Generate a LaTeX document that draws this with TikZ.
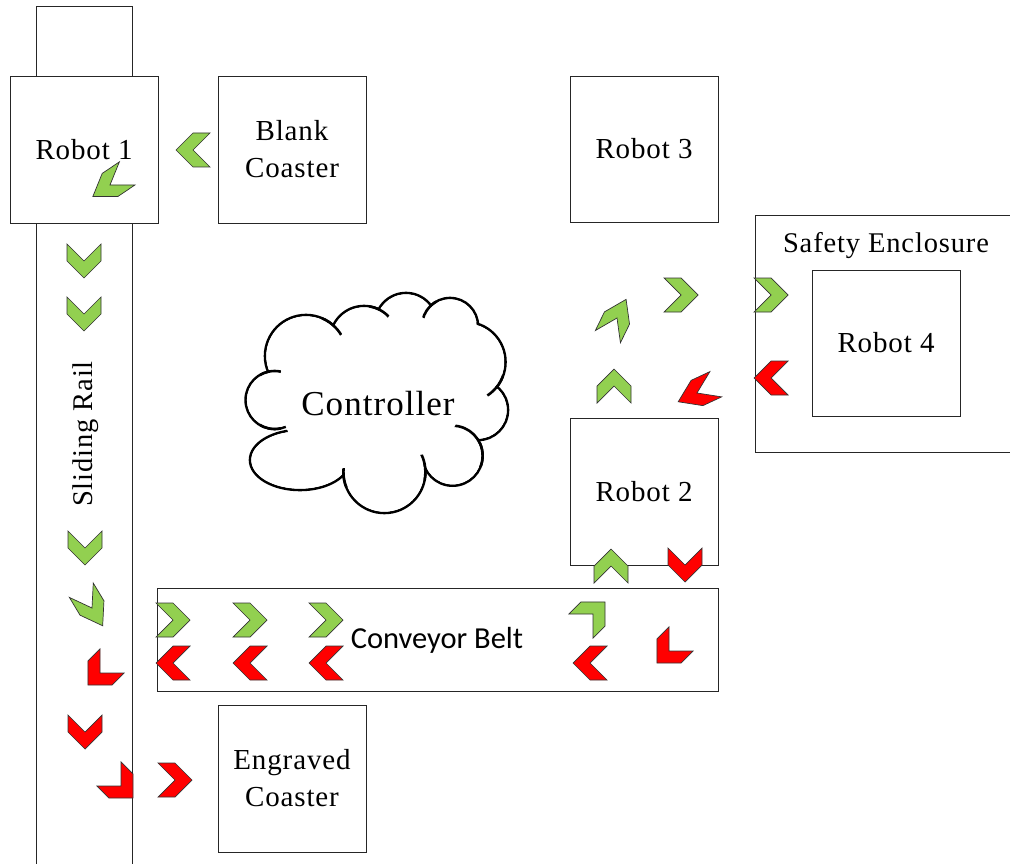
\documentclass[tikz,border=0pt]{standalone}
\usepackage{fontspec}
\setmainfont{Liberation Serif}[LetterSpace=3]
\newfontfamily\calib{Carlito}
\definecolor{chgreen}{HTML}{92D050}
\definecolor{chred}{HTML}{FF0000}
\newcommand\chev[5][1]{%
  \path[chevstyle,fill=#5,shift={(#2,#3)},rotate=-#4,yscale=#1,xscale=1/#1]
    (-17,-17) -- (0,-17) -- (17,0) -- (0,17) -- (-17,17) -- (0,0) -- cycle;}
% hook of a cloud puff: junction x,y, clip radius, puff centre x,y, puff radius
\newcommand\puffhook[6]{%
  \begin{scope}\clip (#1,#2) circle[radius=#3];
  \draw[cloudline] (#4,#5) circle[radius=#6];\end{scope}}
\tikzset{
  chevstyle/.style={draw=black!80,line width=0.7pt,line join=miter},
  box/.style={draw=black!85,line width=0.9pt,fill=white,inner sep=0pt,align=center,
    font=\fontsize{29}{37}\selectfont},
  cloudline/.style={draw=black,line width=2.6pt},
}
\begin{document}
\begin{tikzpicture}[x=1pt,y=-1pt]
\useasboundingbox (0,0) rectangle (1010,864);
\clip (0,0) rectangle (1010,864);
% safety enclosure
\node[box,minimum width=262,minimum height=237,anchor=north west] (enc) at (755,215) {};
\node[font=\fontsize{28.5}{32}\selectfont] (enctxt) at (886,246) {Safety Enclosure};
% rail
\node[box,minimum width=96,minimum height=70,anchor=north west] (railtop) at (36,6) {};
\node[box,minimum width=96,minimum height=642,anchor=north west] (rail) at (36,223) {};
\node[rotate=90,font=\fontsize{28.5}{32}\selectfont] (railtxt) at (86,434) {Sliding Rail};
% robots and coasters
\node[box,minimum width=148,minimum height=147] (r1) at (84,149.5) {Robot 1};
\node[box,minimum width=148,minimum height=147] (blank) at (292,149.5) {Blank\\Coaster};
\node[box,minimum width=148,minimum height=146] (r3) at (644,149) {Robot 3};
\node[box,minimum width=148,minimum height=146] (r4) at (886,343) {Robot 4};
\node[box,minimum width=148,minimum height=147] (r2) at (644,491.5) {Robot 2};
\node[box,minimum width=561,minimum height=103,anchor=north west] (belt) at (157,588) {};
\node[font=\calib\fontsize{30.5}{34}\selectfont] (belttxt) at (437,640) {Conveyor Belt};
\node[box,minimum width=148,minimum height=147] (engr) at (292,778.5) {Engraved\\Coaster};
% controller cloud (union of puffs)
\def\puffs{306/356/41, 364/340/34, 406/324/31, 450/326/28, 465.5/362/40,
  478/410/30, 452.6/455.7/30, 384.4/472/41, 274.6/400/29}
\foreach \x/\y/\r in \puffs {\draw[cloudline] (\x,\y) circle[radius=\r];}
\draw[cloudline] (300,460) ellipse[x radius=50,y radius=30];
\foreach \x/\y/\r in \puffs {\pgfmathsetmacro\rr{\r-1.3}\fill[white] (\x,\y) circle[radius=\rr];}
\fill[white] (300,460) ellipse[x radius=48.7,y radius=28.7];
\fill[white] (306,356) -- (364,340) -- (406,324) -- (450,326) -- (465.5,362) -- (478,410)
  -- (452.6,455.7) -- (384.4,472) -- (300,460) -- (274.6,400) -- cycle;
\puffhook{333}{325}{13}{306}{356}{41}
\puffhook{380}{310}{11}{364}{340}{34}
\puffhook{428}{308}{11}{450}{326}{28}
\puffhook{497}{387}{13}{465.5}{362}{40}
\puffhook{478}{440}{27}{452.6}{455.7}{30}
\puffhook{425}{467}{13}{384.4}{472}{41}
\puffhook{344}{478}{10}{384.4}{472}{41}
\puffhook{270}{429}{11}{274.6}{400}{29}
\puffhook{270}{371}{11}{274.6}{400}{29}
\node[font=\fontsize{35}{40}\selectfont] (ctrl) at (378,404) {Controller};
% chevrons
\chev{193}{150}{180}{chgreen}
\chev[0.82]{110}{185}{146}{chgreen}
\chev{84}{261}{90}{chgreen}
\chev{84}{314}{90}{chgreen}
\chev{85}{548}{90}{chgreen}
\chev[0.82]{92}{608}{59}{chgreen}
\chev{100}{673}{135}{chred}
\chev{85}{732}{90}{chred}
\chev{121}{786}{45}{chred}
\chev{175}{780}{0}{chred}
\chev{173}{620}{0}{chgreen}
\chev{250}{620}{0}{chgreen}
\chev{326}{620}{0}{chgreen}
\chev{173}{663}{180}{chred}
\chev{250}{663}{180}{chred}
\chev{326}{663}{180}{chred}
\chev{611}{566}{-90}{chgreen}
\chev{685}{565}{90}{chred}
\chev{593}{614}{-45}{chgreen}
\chev{590}{663}{180}{chred}
\chev{669}{651}{135}{chred}
\chev[0.82]{617}{318}{-64}{chgreen}
\chev{681}{295}{0}{chgreen}
\chev{771}{295}{0}{chgreen}
\chev{614}{386}{-90}{chgreen}
\chev[0.82]{697}{393}{155}{chred}
\chev{771}{378}{180}{chred}
\end{tikzpicture}
\end{document}
